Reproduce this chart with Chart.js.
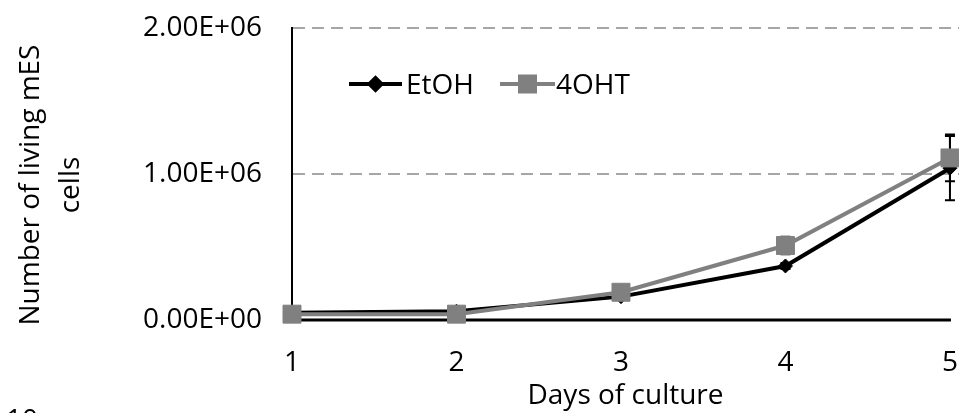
<!DOCTYPE html>
<html>
<head>
<meta charset="utf-8">
<script src="https://cdn.jsdelivr.net/npm/chart.js@4.4.1/dist/chart.umd.min.js"></script>
<style>
  html, body { margin: 0; padding: 0; background: #fff; overflow: hidden; }
  #wrap { position: relative; width: 959px; height: 413px; }
</style>
</head>
<body>
<div id="wrap"><canvas id="c" width="959" height="413"></canvas></div>
<script>
// Living mES cell counts per day of culture, mean and error
const days = [1, 2, 3, 4, 5];
const etohValues = [50000, 60000, 160000, 370000, 1040000];
const etohErrors = [10000, 10000, 20000, 20000, 220000];
const ohtValues = [40000, 40000, 190000, 510000, 1110000];
const ohtErrors = [5000, 10000, 20000, 60000, 160000];
const yTicks = [0, 1000000, 2000000];
const seriesNames = ['EtOH', '4OHT'];
const yTitleLines = ['Number of living mES', 'cells'];
const xTitle = 'Days of culture';
const cornerText = '10';

const FONT = 'Open Sans';

function sci(v) {
  if (v === 0) return '0.00E+00';
  const exp = Math.floor(Math.log10(Math.abs(v)));
  const mant = v / Math.pow(10, exp);
  return mant.toFixed(2) + 'E' + (exp < 0 ? '-' : '+') + String(Math.abs(exp)).padStart(2, '0');
}

const toPoints = vals => vals.map((v, i) => ({ x: days[i], y: v }));

// scales take their room from layout.padding only
function noScalePadding(s) {
  s.paddingTop = 0; s.paddingBottom = 0; s.paddingLeft = 0; s.paddingRight = 0;
}

// error bars and the horizontal axis line, drawn under the markers
const errorBars = {
  id: 'errorBars',
  beforeDatasetsDraw(chart) {
    const { ctx, scales: { x, y } } = chart;
    ctx.save();
    ctx.strokeStyle = '#000';
    ctx.lineWidth = 2;
    chart.data.datasets.forEach(ds => {
      if (!ds.errors) return;
      ds.errors.forEach((e, i) => {
        const v = ds.data[i].y;
        const px = x.getPixelForValue(days[i]);
        const top = y.getPixelForValue(v + e);
        const bot = y.getPixelForValue(v - e);
        ctx.beginPath();
        ctx.moveTo(px, top); ctx.lineTo(px, bot);
        ctx.moveTo(px - 5, top); ctx.lineTo(px + 5, top);
        ctx.moveTo(px - 5, bot); ctx.lineTo(px + 5, bot);
        ctx.stroke();
      });
    });
    const y0 = y.getPixelForValue(0);
    ctx.lineWidth = 3;
    ctx.beginPath();
    ctx.moveTo(x.getPixelForValue(days[0]) - 1, y0);
    ctx.lineTo(x.getPixelForValue(days[days.length - 1]) + 1, y0);
    ctx.stroke();
    ctx.restore();
  }
};

// legend with line samples, axis title on the left, corner label
const decorations = {
  id: 'decorations',
  afterDraw(chart) {
    const { ctx } = chart;
    ctx.save();
    ctx.font = '28px "' + FONT + '"';
    ctx.fillStyle = '#000';

    const items = [
      { ds: chart.data.datasets[0], x0: 349, x1: 402, tx: 406, r: 6 },
      { ds: chart.data.datasets[1], x0: 500, x1: 555, tx: 556, r: 10.6 }
    ];
    const ly = 84;
    items.forEach(it => {
      ctx.strokeStyle = it.ds.borderColor;
      ctx.lineWidth = 4;
      ctx.beginPath();
      ctx.moveTo(it.x0, ly); ctx.lineTo(it.x1, ly);
      ctx.stroke();
      ctx.fillStyle = it.ds.backgroundColor;
      ctx.strokeStyle = it.ds.backgroundColor;
      Chart.helpers.drawPoint(ctx, { pointStyle: it.ds.pointStyle, radius: it.r, rotation: 0, borderWidth: 1 }, (it.x0 + it.x1) / 2, ly);
      ctx.fillStyle = '#000';
      ctx.textAlign = 'left';
      ctx.textBaseline = 'middle';
      ctx.fillText(it.ds.label, it.tx, ly + 2);
    });

    ctx.save();
    ctx.textAlign = 'center';
    ctx.textBaseline = 'middle';
    ctx.translate(31, 185);
    ctx.rotate(-Math.PI / 2);
    ctx.fillText(yTitleLines[0], 0, 0);
    ctx.fillText(yTitleLines[1], 0, 40);
    ctx.restore();

    ctx.textAlign = 'left';
    ctx.textBaseline = 'alphabetic';
    ctx.fillText(cornerText, 6, 429);
    ctx.restore();
  }
};

new Chart(document.getElementById('c'), {
  type: 'line',
  data: {
    datasets: [
      {
        label: seriesNames[0],
        data: toPoints(etohValues),
        errors: etohErrors,
        borderColor: '#000000',
        backgroundColor: '#000000',
        borderWidth: 4,
        pointStyle: 'rectRot',
        pointRadius: 7,
        pointBorderWidth: 1,
        tension: 0,
        clip: false,
        order: 1
      },
      {
        label: seriesNames[1],
        data: toPoints(ohtValues),
        errors: ohtErrors,
        borderColor: '#808080',
        backgroundColor: '#808080',
        borderWidth: 4,
        pointStyle: 'rect',
        pointRadius: 12.7,
        pointBorderWidth: 1,
        tension: 0,
        clip: false,
        order: 0
      }
    ]
  },
  options: {
    responsive: false,
    animation: false,
    events: [],
    layout: { autoPadding: false, padding: { left: 0, top: 28, right: 0, bottom: 0 } },
    plugins: {
      legend: { display: false },
      tooltip: { enabled: false }
    },
    scales: {
      x: {
        type: 'linear',
        min: 1,
        max: 5.055,
        afterBuildTicks: s => { s.ticks = days.map(v => ({ value: v })); },
        afterFit: s => { s.height = 93; noScalePadding(s); },
        grid: { display: false, drawTicks: true, tickLength: 26 },
        border: { display: false },
        ticks: {
          autoSkip: false,
          maxRotation: 0,
          padding: 0,
          color: '#000',
          font: { family: FONT, size: 28 },
          callback: v => String(v)
        },
        title: {
          display: true,
          text: xTitle,
          color: '#000',
          font: { family: FONT, size: 28, lineHeight: 1.2 },
          padding: { top: 0, bottom: 0 }
        }
      },
      y: {
        type: 'linear',
        min: 0,
        max: 2000000,
        afterBuildTicks: s => { s.ticks = yTicks.map(v => ({ value: v })); },
        afterFit: s => { s.width = 292; noScalePadding(s); },
        grid: {
          drawTicks: true,
          tickLength: 30,
          tickColor: 'rgba(0,0,0,0)',
          lineWidth: 2,
          color: c => (c.tick && c.tick.value === 0) ? 'rgba(0,0,0,0)' : '#a6a6a6'
        },
        border: { display: true, color: '#000', width: 2, dash: [12, 7] },
        ticks: {
          padding: 0,
          color: '#000',
          font: { family: FONT, size: 28 },
          callback: v => sci(v)
        }
      }
    }
  },
  plugins: [errorBars, decorations]
});
</script>
</body>
</html>
